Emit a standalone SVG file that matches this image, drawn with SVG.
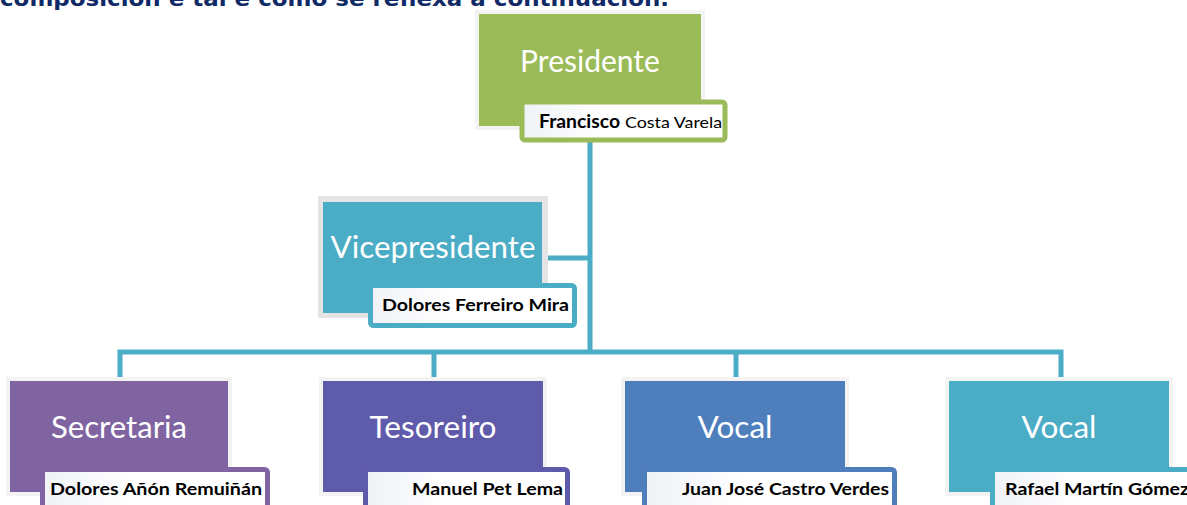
<svg xmlns="http://www.w3.org/2000/svg" width="1187" height="505" viewBox="0 0 1187 505">
<defs>
<linearGradient id="sub" x1="0" y1="0" x2="1" y2="0">
<stop offset="0" stop-color="#F0F2F7"/>
<stop offset="0.4" stop-color="#FFFFFF"/>
<stop offset="1" stop-color="#FFFFFF"/>
</linearGradient>
</defs>
<style>
.title{font-family:"Lato","Open Sans",sans-serif;font-size:30px;fill:#FFFFFF;text-anchor:middle}
.name{font-family:"Lato","Open Sans",sans-serif;font-size:17px;font-weight:bold;fill:#000000;text-anchor:end}
.sub{fill:url(#sub);stroke-width:5}
.halo{fill:none;stroke:#F3F3F3;stroke-width:4}
.conn{fill:none;stroke:#4BACC6;stroke-width:5}
.top{font-family:"DejaVu Sans",sans-serif;font-size:22px;font-weight:bold;fill:#0F2A66}
</style>
<rect width="1187" height="505" fill="#FFFFFF"/>
<text class="top" x="0" y="6" textLength="669" lengthAdjust="spacingAndGlyphs">composición e tal e como se reflexa a continuación.</text>

<g id="connectors">
<path class="conn" d="M590,140 V352"/>
<path class="conn" d="M546,258 H590"/>
<path class="conn" d="M120,381 V352 H1061 V381"/>
<path class="conn" d="M434,352 V381"/>
<path class="conn" d="M736,352 V381"/>
</g>

<g id="presidente">
<rect class="halo" x="477" y="12" width="226" height="116"/>
<rect x="479" y="14" width="222" height="112" fill="#9BBB59"/>
<text class="title" x="590" y="72">Presidente</text>
<rect class="sub" x="522" y="102" width="203" height="38" rx="3" stroke="#9BBB59"/>
<text x="539" y="128" font-family="Lato, 'Open Sans', sans-serif" font-size="18" font-weight="bold" fill="#000000" textLength="81" lengthAdjust="spacingAndGlyphs">Francisco</text>
<text x="625" y="128" font-family="Lato, 'Open Sans', sans-serif" font-size="16" fill="#000000" textLength="97" lengthAdjust="spacingAndGlyphs">Costa Varela</text>
</g>

<g id="vicepresidente">
<rect x="318" y="196" width="230" height="122" fill="#E4E4E4"/>
<rect x="323" y="202" width="219" height="111" fill="#4BACC6"/>
<text class="title" x="433" y="258" textLength="205" lengthAdjust="spacingAndGlyphs">Vicepresidente</text>
<rect class="sub" x="370.5" y="285.5" width="204" height="40" rx="3" stroke="#4BACC6"/>
<text class="name" x="569" y="311" textLength="187" lengthAdjust="spacingAndGlyphs">Dolores Ferreiro Mira</text>
</g>

<g id="secretaria">
<rect class="halo" x="8" y="379" width="222" height="115"/>
<rect x="10" y="381" width="218" height="111" fill="#8064A2"/>
<text class="title" x="119" y="438" textLength="136" lengthAdjust="spacingAndGlyphs">Secretaria</text>
<rect class="sub" x="42.5" y="469.5" width="225" height="45" rx="3" stroke="#8064A2"/>
<text class="name" x="262" y="495" textLength="212" lengthAdjust="spacingAndGlyphs">Dolores Añón Remuiñán</text>
</g>

<g id="tesoreiro">
<rect class="halo" x="321" y="379" width="224" height="115"/>
<rect x="323" y="381" width="220" height="111" fill="#5F5BAB"/>
<text class="title" x="433" y="438" textLength="127" lengthAdjust="spacingAndGlyphs">Tesoreiro</text>
<rect class="sub" x="365.5" y="469.5" width="202" height="45" rx="3" stroke="#5F5BAB"/>
<text class="name" x="563" y="495" textLength="151" lengthAdjust="spacingAndGlyphs">Manuel Pet Lema</text>
</g>

<g id="vocal1">
<rect class="halo" x="623" y="379" width="224" height="115"/>
<rect x="625" y="381" width="220" height="111" fill="#4F7EBD"/>
<text class="title" x="735" y="438" textLength="75" lengthAdjust="spacingAndGlyphs">Vocal</text>
<rect class="sub" x="644.5" y="469.5" width="250" height="45" rx="3" stroke="#4F7EBD"/>
<text class="name" x="889" y="495" textLength="207" lengthAdjust="spacingAndGlyphs">Juan José Castro Verdes</text>
</g>

<g id="vocal2">
<rect class="halo" x="947" y="379" width="224" height="115"/>
<rect x="949" y="381" width="220" height="111" fill="#4BACC6"/>
<text class="title" x="1059" y="438" textLength="75" lengthAdjust="spacingAndGlyphs">Vocal</text>
<rect class="sub" x="992.5" y="469.5" width="220" height="45" rx="3" stroke="#4BACC6"/>
<text class="name" x="1005" y="495" style="text-anchor:start" textLength="184" lengthAdjust="spacingAndGlyphs">Rafael Martín Gómez</text>
</g>
</svg>
